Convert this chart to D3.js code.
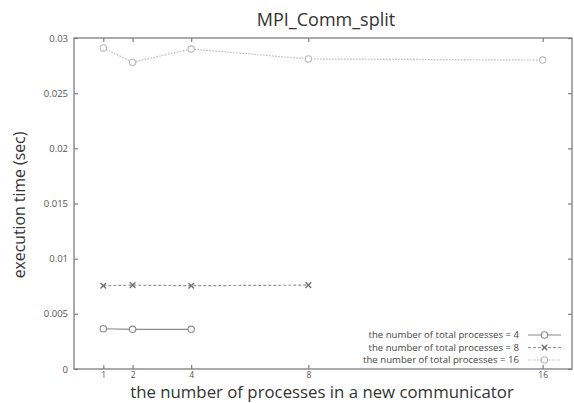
<!DOCTYPE html>
<html>
<head>
<meta charset="utf-8">
<script src="https://cdn.jsdelivr.net/npm/d3@7"></script>
<style>
  html, body { margin: 0; padding: 0; background: #fff; }
  svg { display: block; font-family: "Open Sans", "DejaVu Sans", sans-serif; }
</style>
</head>
<body>
<svg id="chart" width="574" height="403"></svg>
<script>
// Communicator sizes on the x axis
const procCounts = [1, 2, 4, 8, 16];
const xTicks = [1, 2, 4, 8, 16];
const yTicks = [0, 0.005, 0.01, 0.015, 0.02, 0.025, 0.03];
const yTickLabels = ["0", "0.005", "0.01", "0.015", "0.02", "0.025", "0.03"];

// Execution time (sec) per total process count
const total4 = [0.00365, 0.0036, 0.0036];
const total8 = [0.00755, 0.0076, 0.00755, 0.0076];
const total16 = [0.0291, 0.0278, 0.0290, 0.0281, 0.0280];

const seriesNames = [
  "the number of total processes = 4",
  "the number of total processes = 8",
  "the number of total processes = 16"
];

const series = [
  { name: seriesNames[0], values: total4, color: "#8a8a8a", dash: null, marker: "circle" },
  { name: seriesNames[1], values: total8, color: "#939393", dash: "3,2", marker: "cross" },
  { name: seriesNames[2], values: total16, color: "#b8b8b8", dash: "1.5,1.5", marker: "circle" }
];

const svg = d3.select("#chart");
const m = { left: 74, right: 2, top: 38, bottom: 34 };
const W = 574, H = 403;

const x = d3.scaleLinear().domain([0, 17]).range([m.left, W - m.right]);
const y = d3.scaleLinear().domain([0, 0.03]).range([H - m.bottom, m.top]);

const axisColor = "#7d7d7d";
const tickLen = 4;

// frame
svg.append("rect")
  .attr("x", x(0)).attr("y", y(0.03))
  .attr("width", x(17) - x(0)).attr("height", y(0) - y(0.03))
  .attr("fill", "none").attr("stroke", axisColor).attr("stroke-width", 1.3);

// axes on all four sides, ticks pointing inward
const xAxisB = svg.append("g").attr("transform", `translate(0,${y(0)})`)
  .call(d3.axisBottom(x).tickValues(xTicks).tickSize(-tickLen).tickPadding(3).tickFormat(d3.format("d")));
const xAxisT = svg.append("g").attr("transform", `translate(0,${y(0.03)})`)
  .call(d3.axisTop(x).tickValues(xTicks).tickSize(-tickLen).tickFormat(""));
const yAxisL = svg.append("g").attr("transform", `translate(${x(0)},0)`)
  .call(d3.axisLeft(y).tickValues(yTicks).tickSize(-tickLen).tickPadding(6)
    .tickFormat((d, i) => yTickLabels[i]));
const yAxisR = svg.append("g").attr("transform", `translate(${x(17)},0)`)
  .call(d3.axisRight(y).tickValues(yTicks).tickSize(-tickLen).tickFormat(""));

[xAxisB, xAxisT, yAxisL, yAxisR].forEach(g => {
  g.select(".domain").remove();
  g.selectAll(".tick line").attr("stroke", axisColor).attr("stroke-width", 1.2);
  g.selectAll(".tick text").attr("fill", "#555").attr("font-size", 9.5)
    .attr("font-family", "'Open Sans', sans-serif");
});
xAxisB.selectAll(".tick text").attr("font-size", 8.5);

// lines and markers
const line = d3.line().x((d, i) => x(procCounts[i])).y(d => y(d));

function drawMarker(g, cx, cy, kind, color) {
  if (kind === "circle") {
    g.append("circle").attr("cx", cx).attr("cy", cy).attr("r", 3.2)
      .attr("fill", "#fff").attr("stroke", color).attr("stroke-width", 1.1);
  } else {
    const s = 2.8;
    g.append("path")
      .attr("d", `M${cx - s},${cy - s}L${cx + s},${cy + s}M${cx - s},${cy + s}L${cx + s},${cy - s}`)
      .attr("stroke", "#707070").attr("stroke-width", 1.4);
  }
}

series.forEach(s => {
  const g = svg.append("g");
  g.append("path").datum(s.values)
    .attr("d", line)
    .attr("fill", "none")
    .attr("stroke", s.color)
    .attr("stroke-width", 1.2)
    .attr("stroke-dasharray", s.dash);
  s.values.forEach((v, i) => drawMarker(g, x(procCounts[i]), y(v), s.marker, s.color));
});

// legend
const legend = svg.append("g");
series.forEach((s, i) => {
  const ly = 335 + i * 12.5;
  legend.append("text")
    .attr("x", 519).attr("y", ly).attr("dy", "0.35em")
    .attr("text-anchor", "end").attr("font-size", 9.6).attr("fill", "#444")
    .text(s.name);
  legend.append("line")
    .attr("x1", 528).attr("x2", 561).attr("y1", ly).attr("y2", ly)
    .attr("stroke", s.color).attr("stroke-width", 1.2).attr("stroke-dasharray", s.dash);
  drawMarker(legend, 544.5, ly, s.marker, s.color);
});

// title and axis labels
svg.append("text")
  .attr("x", 326).attr("y", 26).attr("text-anchor", "middle")
  .attr("font-size", 18).attr("fill", "#333").text("MPI_Comm_split");

svg.append("text")
  .attr("x", 322).attr("y", 398).attr("text-anchor", "middle")
  .attr("font-size", 16.8).attr("fill", "#333")
  .text("the number of processes in a new communicator");

svg.append("text")
  .attr("transform", `translate(25,205) rotate(-90)`)
  .attr("text-anchor", "middle")
  .attr("font-size", 15.8).attr("fill", "#333")
  .text("execution time (sec)");
</script>
</body>
</html>
